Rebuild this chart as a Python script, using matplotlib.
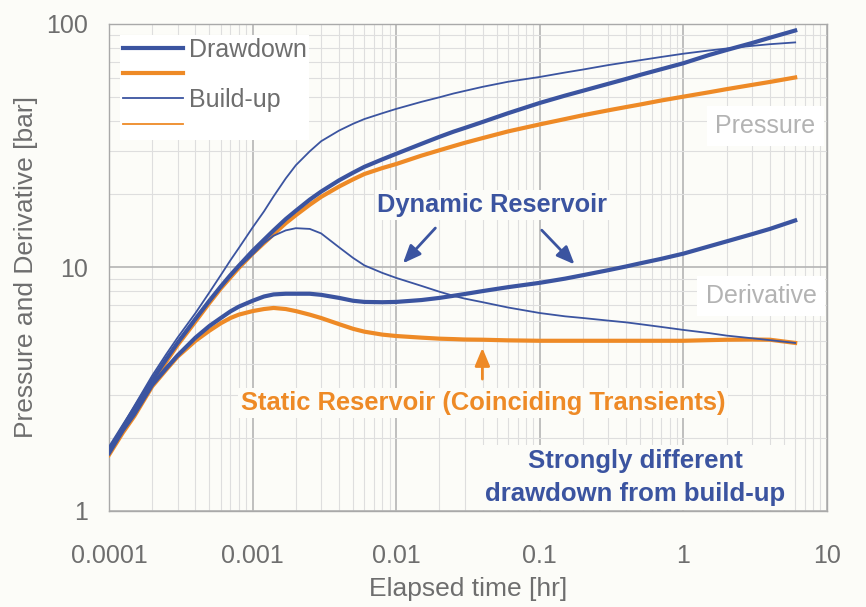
import matplotlib
matplotlib.use("Agg")
import matplotlib.pyplot as plt
from matplotlib.ticker import LogLocator, FixedLocator, FixedFormatter, NullFormatter

plt.rcParams['font.family'] = ['Liberation Sans', 'DejaVu Sans']

# Elapsed time [hr]
time_hr = [1e-4, 1.25e-4, 1.5e-4, 2e-4, 2.5e-4, 3e-4, 4e-4, 5e-4, 6e-4, 7e-4, 8e-4,
           1e-3, 1.2e-3, 1.4e-3, 1.7e-3, 2e-3, 2.5e-3, 3e-3, 4e-3, 5e-3, 6e-3, 8e-3,
           1e-2, 1.5e-2, 2e-2, 2.5e-2, 3e-2, 4e-2, 6e-2,
           0.1, 0.15, 0.2, 0.3, 0.4, 0.5, 0.7, 1.0, 1.5, 2.0, 3.0, 4.0, 6.0]

# Dynamic reservoir: drawdown (thick) and build-up (thin), pressure and derivative [bar]
dyn_drawdown_p = [1.80, 2.22, 2.63, 3.45, 4.2, 4.9, 6.15, 7.3, 8.35, 9.3, 10.15,
                  11.7, 13.0, 14.2, 15.8, 17.1, 19.0, 20.5, 22.8, 24.5, 25.9, 27.8,
                  29.3, 32.2, 34.4, 36.1, 37.4, 39.6, 43.0,
                  47.4, 50.8, 53.2, 56.8, 59.5, 61.8, 65.2, 69.0, 74.5, 78.2, 83.5, 87.8, 94.0]
dyn_drawdown_d = [1.73, 2.15, 2.5, 3.3, 3.85, 4.35, 5.15, 5.75, 6.2, 6.6, 6.9,
                  7.3, 7.6, 7.75, 7.8, 7.8, 7.8, 7.72, 7.5, 7.3, 7.22, 7.2,
                  7.22, 7.35, 7.5, 7.65, 7.78, 8.0, 8.3,
                  8.65, 9.0, 9.3, 9.75, 10.1, 10.4, 10.85, 11.4, 12.2, 12.8, 13.7, 14.4, 15.6]
dyn_buildup_p = [1.8, 2.25, 2.7, 3.6, 4.4, 5.15, 6.5, 7.9, 9.3, 10.7, 12.0,
                 14.6, 17.0, 19.6, 23.2, 26.3, 30.0, 33.0, 36.5, 38.9, 40.7, 43.0,
                 44.8, 47.9, 50.0, 51.8, 53.1, 55.2, 57.9,
                 60.6, 63.2, 65.0, 67.8, 69.6, 71.0, 73.2, 75.5, 77.8, 79.3, 81.3, 82.6, 84.0]
dyn_buildup_d = [1.75, 2.2, 2.6, 3.45, 4.2, 4.9, 6.2, 7.3, 8.3, 9.2, 10.0,
                 11.3, 12.6, 13.5, 14.2, 14.5, 14.4, 13.8, 12.1, 10.95, 10.2, 9.5,
                 9.06, 8.4, 7.95, 7.65, 7.45, 7.2, 6.85,
                 6.5, 6.3, 6.2, 6.05, 5.95, 5.85, 5.7, 5.54, 5.38, 5.25, 5.12, 5.03, 4.9]

# Static reservoir: drawdown and build-up transients coincide
static_drawdown_p = [1.75, 2.17, 2.57, 3.35, 4.1, 4.8, 6.0, 7.15, 8.2, 9.1, 9.95,
                     11.4, 12.6, 13.7, 15.2, 16.4, 18.1, 19.5, 21.5, 23.0, 24.2, 25.6,
                     26.6, 28.8, 30.3, 31.5, 32.5, 34.0, 36.2,
                     38.7, 40.7, 42.2, 44.2, 45.6, 46.7, 48.5, 50.3, 52.4, 54.0, 56.2, 57.8, 60.3]
static_drawdown_d = [1.7, 2.1, 2.45, 3.25, 3.8, 4.3, 5.0, 5.5, 5.9, 6.2, 6.4,
                     6.62, 6.75, 6.82, 6.75, 6.62, 6.4, 6.2, 5.85, 5.6, 5.45, 5.3,
                     5.23, 5.15, 5.1, 5.08, 5.06, 5.05, 5.02,
                     5.0, 5.0, 5.0, 5.0, 5.0, 5.0, 5.0, 5.0, 5.03, 5.05, 5.06, 5.05, 4.9]
static_buildup_p = list(static_drawdown_p)
static_buildup_d = list(static_drawdown_d)

x_ticks = [1e-4, 1e-3, 1e-2, 1e-1, 1, 10]
x_tick_labels = ['0.0001', '0.001', '0.01', '0.1', '1', '10']
y_ticks = [1, 10, 100]
y_tick_labels = ['1', '10', '100']

BLUE = '#3b54a0'
ORANGE = '#ee8a26'
TEXT_GRAY = '#6e6e6e'
BG = '#fcfcf8'

fig = plt.figure(figsize=(8.66, 6.07), dpi=100, facecolor=BG)
ax = fig.add_axes([0.1259, 0.1582, 0.8291, 0.8023], facecolor=BG)
ax.set_xscale('log')
ax.set_yscale('log')
ax.set_xlim(1e-4, 10)
ax.set_ylim(1, 100)

ax.xaxis.set_major_locator(FixedLocator(x_ticks))
ax.xaxis.set_major_formatter(FixedFormatter(x_tick_labels))
ax.yaxis.set_major_locator(FixedLocator(y_ticks))
ax.yaxis.set_major_formatter(FixedFormatter(y_tick_labels))
for axis in (ax.xaxis, ax.yaxis):
    axis.set_minor_locator(LogLocator(base=10, subs=range(2, 10)))
    axis.set_minor_formatter(NullFormatter())

ax.grid(True, which='major', color='#b4b4b4', lw=1.2)
ax.grid(True, which='minor', color='#dedede', lw=0.8)
ax.set_axisbelow(True)
ax.tick_params(which='both', length=0)
ax.tick_params(axis='x', pad=24, labelsize=18, labelcolor=TEXT_GRAY)
ax.tick_params(axis='y', pad=15, labelsize=18, labelcolor=TEXT_GRAY)
for s in ax.spines.values():
    s.set_color('#a9a9a9')
    s.set_linewidth(1.0)

ax.set_xlabel('Elapsed time [hr]', fontsize=19, color=TEXT_GRAY, labelpad=6)
ax.set_ylabel('Pressure and Derivative [bar]', fontsize=19, color=TEXT_GRAY, labelpad=6)

# pressure and derivative curves
l_dd, = ax.plot(time_hr, dyn_drawdown_p, color=BLUE, lw=3.0, zorder=4)
ax.plot(time_hr, dyn_drawdown_d, color=BLUE, lw=3.0, zorder=4)
l_bu, = ax.plot(time_hr, dyn_buildup_p, color=BLUE, lw=1.3, zorder=5)
ax.plot(time_hr, dyn_buildup_d, color=BLUE, lw=1.3, zorder=5)
l_sdd, = ax.plot(time_hr, static_drawdown_p, color=ORANGE, lw=3.0, zorder=3)
ax.plot(time_hr, static_drawdown_d, color=ORANGE, lw=3.0, zorder=3)
l_sbu, = ax.plot(time_hr, static_buildup_p, color=ORANGE, lw=1.3, zorder=3)
ax.plot(time_hr, static_buildup_d, color=ORANGE, lw=1.3, zorder=3)

leg = ax.legend([l_dd, l_sdd, l_bu, l_sbu], ['Drawdown', ' ', 'Build-up', ' '],
                loc='upper left', fontsize=18, frameon=True, fancybox=False,
                framealpha=1, facecolor='white', edgecolor='none',
                handlelength=2.4, handletextpad=0.25, labelspacing=0.05,
                borderpad=0.1, borderaxespad=0.45)
for t in leg.get_texts():
    t.set_color(TEXT_GRAY)
leg.set_zorder(6)

# curve group labels
box = dict(facecolor='white', edgecolor='none', pad=6)
ax.text(0.914, 0.79, 'Pressure', transform=ax.transAxes, ha='center', va='center',
        fontsize=18, color='#b3b3b3', bbox=box, zorder=2)
ax.text(0.908, 0.441, 'Derivative', transform=ax.transAxes, ha='center', va='center',
        fontsize=18, color='#b3b3b3', bbox=box, zorder=2)

# annotations
ax.text(0.0467, 18.1, 'Dynamic Reservoir', ha='center', va='center', fontsize=18.3,
        fontweight='bold', color=BLUE, zorder=7,
        bbox=dict(facecolor=BG, edgecolor='none', pad=2))
arrow_kw = dict(arrowstyle='-|>,head_length=0.6,head_width=0.25', color=BLUE, lw=2,
                mutation_scale=18)
ax.annotate('', xy=(0.0108, 10.2), xytext=(0.0193, 14.8), arrowprops=arrow_kw, zorder=7)
ax.annotate('', xy=(0.18, 10.1), xytext=(0.1, 14.5), arrowprops=arrow_kw, zorder=7)

ax.text(0.0404, 2.78, 'Static Reservoir (Coinciding Transients)', ha='center', va='center',
        fontsize=18.4, fontweight='bold', color=ORANGE, zorder=7,
        bbox=dict(facecolor=BG, edgecolor='none', pad=2))
ax.annotate('', xy=(0.0398, 4.8), xytext=(0.0398, 3.39),
            arrowprops=dict(arrowstyle='-|>,head_length=0.6,head_width=0.25', color=ORANGE,
                            lw=2, mutation_scale=18), zorder=7)

ax.text(0.46, 1.373, 'Strongly different\ndrawdown from build-up', ha='center', va='center',
        fontsize=18.5, fontweight='bold', color=BLUE, linespacing=1.45, zorder=7,
        bbox=dict(facecolor=BG, edgecolor='none', pad=3))

fig.savefig('out.png', dpi=100, facecolor=BG)
